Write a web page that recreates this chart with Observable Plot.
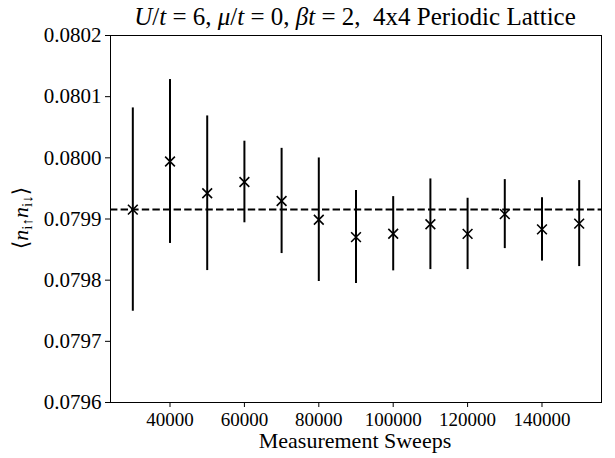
<!DOCTYPE html>
<html>
<head>
<meta charset="utf-8">
<script src="https://cdn.jsdelivr.net/npm/d3@7"></script>
<script src="https://cdn.jsdelivr.net/npm/@observablehq/plot@0.6"></script>
</head>
<body style="margin:0;background:white">
<div id="chart"></div>
<script>
// Data
const sweeps = [30000, 40000, 50000, 60000, 70000, 80000, 90000, 100000, 110000, 120000, 130000, 140000, 150000];
const means  = [0.0799154, 0.0799940, 0.0799421, 0.0799605, 0.0799295, 0.0798988, 0.0798704, 0.0798759, 0.0798914, 0.0798756, 0.0799080, 0.0798830, 0.0798925];
const errs   = [0.0001662, 0.0001340, 0.0001264, 0.0000667, 0.0000860, 0.0001010, 0.0000760, 0.0000607, 0.0000741, 0.0000583, 0.0000564, 0.0000518, 0.0000703];
const refValue = 0.0799154;
const yTicks = [0.0796, 0.0797, 0.0798, 0.0799, 0.0800, 0.0801, 0.0802];
const xTicks = [40000, 60000, 80000, 100000, 120000, 140000];

const data = sweeps.map((s, i) => ({sweeps: s, mean: means[i], err: errs[i]}));
const FONT = "Liberation Serif, DejaVu Serif, serif";

const plot = Plot.plot({
  width: 615,
  height: 458,
  marginLeft: 110,
  marginRight: 14,
  marginTop: 35,
  marginBottom: 56,
  style: {fontFamily: FONT, fontSize: "21px", background: "white"},
  x: {domain: [24000, 156000], ticks: xTicks, tickFormat: d3.format("d"), tickSize: 5, tickPadding: 5, label: null},
  y: {domain: [0.0796, 0.0802], ticks: yTicks, tickFormat: d3.format(".4f"), tickSize: 5, tickPadding: 4, label: null},
  marks: [
    Plot.ruleY([refValue], {stroke: "black", strokeWidth: 2, strokeDasharray: "7.4,3.2"}),
    Plot.ruleX(data, {x: "sweeps", y1: d => d.mean - d.err, y2: d => d.mean + d.err, stroke: "black", strokeWidth: 2}),
    Plot.dot(data, {x: "sweeps", y: "mean", symbol: "times", r: 4.5, stroke: "black", strokeWidth: 1.6}),
    Plot.frame({stroke: "black", strokeWidth: 1})
  ]
});

document.getElementById("chart").appendChild(plot);

const svg = d3.select(plot);
svg.selectAll("g[aria-label='x-axis tick label']").attr("font-size", 19);

function addRich(sel, parts) {
  for (const p of parts) {
    const t = sel.append("tspan").text(p.t);
    if (p.i) t.attr("font-style", "italic");
    if (p.sub) t.attr("font-size", "15px").attr("dy", p.dy);
    else if (p.dy) t.attr("dy", p.dy);
  }
}

// Title
const title = svg.append("text")
  .attr("x", 355).attr("y", 25)
  .attr("text-anchor", "middle")
  .attr("font-family", FONT)
  .attr("font-size", "25px")
  .attr("fill", "black");
addRich(title, [
  {t: "U", i: true}, {t: "/"}, {t: "t", i: true}, {t: " = 6, "},
  {t: "\u03bc", i: true}, {t: "/"}, {t: "t", i: true}, {t: " = 0, "},
  {t: "\u03b2", i: true}, {t: "t", i: true}, {t: " = 2,\u00a0 4x4 Periodic Lattice"}
]);

// X label
svg.append("text")
  .attr("x", 355).attr("y", 448)
  .attr("text-anchor", "middle")
  .attr("font-family", FONT)
  .attr("font-size", "22px")
  .attr("fill", "black")
  .text("Measurement Sweeps");

// Y label
const ylab = svg.append("text")
  .attr("transform", "translate(28,218) rotate(-90)")
  .attr("text-anchor", "middle")
  .attr("font-family", FONT)
  .attr("font-size", "22px")
  .attr("fill", "black");
addRich(ylab, [
  {t: "\u27e8"}, {t: "n", i: true}, {t: "i\u2191", sub: true, dy: 4}, {t: "n", i: true, dy: -4}, {t: "i\u2193", sub: true, dy: 4}, {t: "\u27e9", dy: -4}
]);
</script>
</body>
</html>
